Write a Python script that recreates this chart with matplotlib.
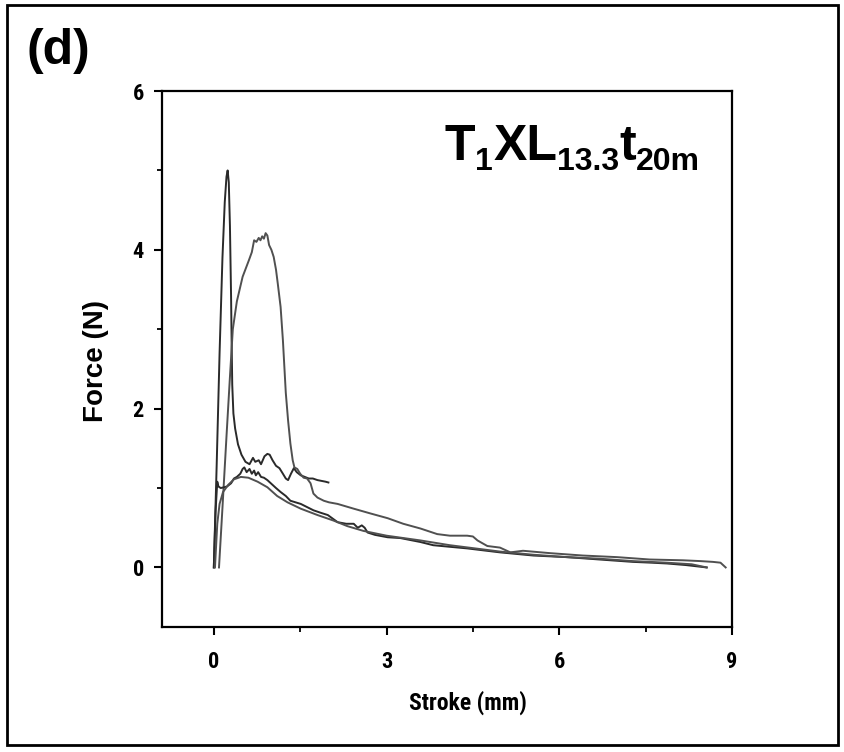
import matplotlib
matplotlib.use("Agg")
import matplotlib.pyplot as plt
from matplotlib.ticker import MultipleLocator
from matplotlib.patches import Rectangle
from matplotlib import font_manager

# ---- data ----
curve_a_x = [0.0, 0.05, 0.10, 0.15, 0.19, 0.22, 0.24, 0.26, 0.28, 0.30, 0.31, 0.32, 0.34, 0.37,
             0.42, 0.48, 0.55, 0.62, 0.68, 0.72, 0.78, 0.82, 0.88, 0.93, 0.97, 1.02, 1.08, 1.14,
             1.20, 1.25, 1.29, 1.34, 1.39, 1.44, 1.51, 1.58, 1.65, 1.72, 1.80, 1.87, 1.94, 1.99]
curve_a_y = [0.0, 1.3, 2.7, 3.9, 4.6, 4.92, 5.0, 4.85, 4.3, 3.4, 2.8, 2.3, 1.94, 1.75,
             1.55, 1.42, 1.33, 1.30, 1.38, 1.33, 1.35, 1.30, 1.40, 1.43, 1.42, 1.35, 1.28, 1.25,
             1.18, 1.12, 1.10, 1.18, 1.25, 1.20, 1.16, 1.14, 1.12, 1.12, 1.10, 1.09, 1.08, 1.07]

curve_b_x = [0.09, 0.15, 0.22, 0.28, 0.33, 0.40, 0.50, 0.61, 0.66, 0.70, 0.74, 0.78, 0.81, 0.84,
             0.87, 0.90, 0.93, 0.96, 1.00, 1.04, 1.08, 1.11, 1.16, 1.20, 1.25, 1.29, 1.33, 1.37,
             1.40, 1.45, 1.50, 1.56, 1.62, 1.68, 1.73, 1.80, 1.91, 2.0, 2.15, 2.43, 2.72, 3.02,
             3.29, 3.59, 3.88, 4.1, 4.4, 4.5, 4.58, 4.75, 4.97, 5.15, 5.37, 5.84, 6.41, 7.0,
             7.57, 8.15, 8.45, 8.67, 8.8, 8.89]
curve_b_y = [0.0, 0.75, 1.65, 2.4, 3.0, 3.35, 3.66, 3.87, 3.97, 4.12, 4.10, 4.15, 4.12, 4.17,
             4.14, 4.21, 4.18, 4.06, 4.0, 3.91, 3.75, 3.58, 3.28, 2.86, 2.2, 1.85, 1.56, 1.35,
             1.26, 1.24, 1.18, 1.13, 1.12, 1.06, 0.93, 0.88, 0.84, 0.82, 0.80, 0.74, 0.68, 0.62,
             0.55, 0.49, 0.42, 0.40, 0.40, 0.39, 0.34, 0.27, 0.25, 0.19, 0.21, 0.18, 0.15, 0.13,
             0.10, 0.09, 0.08, 0.07, 0.06, 0.0]

curve_c_x = [0.0, 0.03, 0.06, 0.08, 0.12, 0.18, 0.23, 0.30, 0.35, 0.40, 0.46, 0.50, 0.53, 0.57,
             0.62, 0.66, 0.70, 0.73, 0.77, 0.82, 0.87, 0.93, 0.99, 1.08, 1.16, 1.25, 1.33, 1.42,
             1.51, 1.62, 1.73, 1.85, 1.98, 2.15, 2.30, 2.43, 2.50, 2.57, 2.62, 2.67, 2.80, 3.02,
             3.24, 3.59, 3.81, 4.1, 4.4, 4.97, 5.55, 6.13, 6.7, 7.28, 7.6, 7.87, 8.2, 8.56]
curve_c_y = [0.0, 0.7, 1.08, 1.02, 1.0, 1.01, 1.02, 1.06, 1.12, 1.14, 1.18, 1.24, 1.26, 1.20,
             1.24, 1.18, 1.22, 1.16, 1.20, 1.14, 1.13, 1.10, 1.06, 1.0, 0.95, 0.90, 0.84, 0.82,
             0.80, 0.76, 0.72, 0.69, 0.66, 0.57, 0.55, 0.55, 0.50, 0.53, 0.50, 0.44, 0.41, 0.38,
             0.37, 0.32, 0.28, 0.26, 0.24, 0.19, 0.15, 0.13, 0.10, 0.07, 0.06, 0.05, 0.03, 0.0]

curve_d_x = [0.02, 0.06, 0.10, 0.16, 0.25, 0.35, 0.47, 0.6, 0.76, 0.93, 1.1, 1.28, 1.51, 1.8,
             2.08, 2.32, 2.6, 3.0, 3.59, 4.1, 4.97, 5.55, 6.13, 6.7, 7.28, 7.87, 8.3, 8.56]
curve_d_y = [0.0, 0.55, 0.80, 0.95, 1.04, 1.11, 1.14, 1.13, 1.08, 1.01, 0.90, 0.82, 0.74, 0.66,
             0.59, 0.52, 0.46, 0.40, 0.34, 0.28, 0.20, 0.16, 0.13, 0.11, 0.08, 0.06, 0.04, 0.0]

x_ticks = [0, 3, 6, 9]
y_ticks = [0, 2, 4, 6]
x_label = "Stroke (mm)"
y_label = "Force (N)"
panel_label = "(d)"
sample_parts = [("T", "main"), ("1", "sub"), ("XL", "main"), ("13.3", "sub"), ("t", "main"), ("20m", "sub")]

installed = {f.name for f in font_manager.fontManager.ttflist}
narrow_choice = 'Liberation Sans'
for cand in ['Liberation Sans Narrow', 'Arial Narrow', 'Roboto Condensed', 'DejaVu Sans Condensed',
             'Open Sans Condensed']:
    if cand in installed:
        narrow_choice = cand
        break
NARROW = [narrow_choice, 'Liberation Sans', 'DejaVu Sans']

plt.rcParams['font.family'] = ['Liberation Sans', 'DejaVu Sans']
plt.rcParams['font.weight'] = 'bold'

fig = plt.figure(figsize=(8.45, 7.52), dpi=100)
ax = fig.add_axes([162/845, 1 - 627/752, (732-162)/845, (627-91)/752])

ax.plot(curve_a_x, curve_a_y, color='#2a2a2a', lw=1.4)
ax.plot(curve_b_x, curve_b_y, color='#505050', lw=1.4)
ax.plot(curve_c_x, curve_c_y, color='#2a2a2a', lw=1.4)
ax.plot(curve_d_x, curve_d_y, color='#505050', lw=1.4)

ax.set_xlim(-0.9, 9)
ax.set_ylim(-0.75, 6)
ax.set_xticks(x_ticks)
ax.set_yticks(y_ticks)
ax.xaxis.set_minor_locator(MultipleLocator(1.5))
ax.yaxis.set_minor_locator(MultipleLocator(1))
ax.tick_params(which='major', direction='out', length=6, width=1.5, top=False, right=False)
ax.tick_params(axis='x', which='major', pad=11)
ax.tick_params(axis='y', which='major', pad=7)
ax.tick_params(which='minor', direction='out', length=3.5, width=1.3, top=False, right=False)
for lab in ax.get_xticklabels() + ax.get_yticklabels():
    lab.set_fontweight('bold')
    lab.set_fontsize(16)
    lab.set_family(NARROW)
for sp in ax.spines.values():
    sp.set_linewidth(1.6)

fig.text(468/845, 1 - 703/752, x_label, fontsize=17, fontweight='bold', family=NARROW,
         ha='center', va='center')
fig.text(96/845, 1 - 361/752, y_label, fontsize=20, fontweight='bold', rotation=90,
         ha='center', va='center')

fig.text(27/845, 1 - 64/752, panel_label, fontsize=36, fontweight='bold', ha='left', va='baseline')

# sample label with manual subscripts
fig.canvas.draw()
renderer = fig.canvas.get_renderer()
x_px = 445.0
base_px = 160.0
for txt, kind in sample_parts:
    if kind == "main":
        t = fig.text(x_px/845, 1 - base_px/752, txt, fontsize=36, fontweight='bold', ha='left', va='baseline')
    else:
        t = fig.text(x_px/845, 1 - (base_px + 10)/752, txt, fontsize=23, fontweight='bold', ha='left', va='baseline')
    bb = t.get_window_extent(renderer=renderer)
    x_px += bb.width

fig.patches.append(Rectangle((7/845, 1 - 745/752), (838-7)/845, (745-5)/752,
                             transform=fig.transFigure, fill=False, edgecolor='black', lw=2))

fig.savefig("out.png", dpi=100)
